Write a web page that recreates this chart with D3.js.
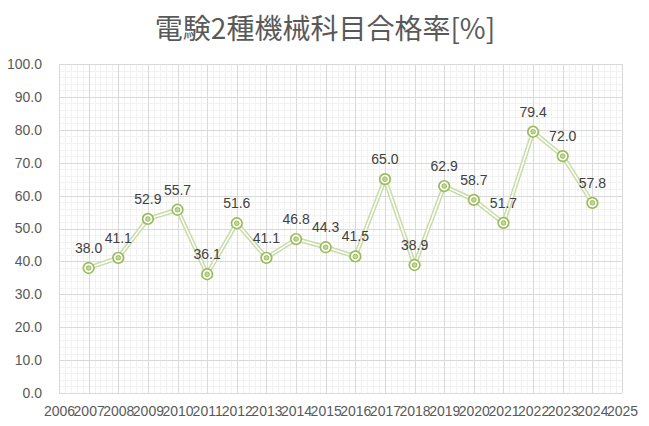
<!DOCTYPE html>
<html><head><meta charset="utf-8">
<script src="https://cdn.jsdelivr.net/npm/d3@7"></script>
<style>body{margin:0;background:#fff}svg{display:block}</style>
</head><body>
<svg id="c" width="649" height="426"></svg>
<script>
const years = [2007,2008,2009,2010,2011,2012,2013,2014,2015,2016,2017,2018,2019,2020,2021,2022,2023,2024];
const rates = [38.0,41.1,52.9,55.7,36.1,51.6,41.1,46.8,44.3,41.5,65.0,38.9,62.9,58.7,51.7,79.4,72.0,57.8];
const xTicks = d3.range(2006,2026);
const yTicks = d3.range(0,101,10);
const title = "電験2種機械科目合格率[%]";

const svg = d3.select("#c");
const L=59, R=622, T=64, B=393;
const x = d3.scaleLinear().domain([2006,2025]).range([L,R]);
const y = d3.scaleLinear().domain([0,100]).range([B,T]);

// minor grid
const g = svg.append("g");
const minorX = d3.range(2006,2025.001,0.2).filter(v=>Math.abs(v-Math.round(v))>0.01);
const minorY = d3.range(0,100.001,2).filter(v=>v%10!==0);
g.selectAll(".mx").data(minorX).join("line").attr("x1",d=>Math.round(x(d))+0.5).attr("x2",d=>Math.round(x(d))+0.5).attr("y1",T).attr("y2",B).attr("stroke","#f2f2f2");
g.selectAll(".my").data(minorY).join("line").attr("y1",d=>Math.round(y(d))+0.5).attr("y2",d=>Math.round(y(d))+0.5).attr("x1",L).attr("x2",R).attr("stroke","#f2f2f2");
g.selectAll(".Mx").data(xTicks).join("line").attr("x1",d=>Math.round(x(d))+0.5).attr("x2",d=>Math.round(x(d))+0.5).attr("y1",T).attr("y2",B).attr("stroke","#d9d9d9");
g.selectAll(".My").data(yTicks).join("line").attr("y1",d=>Math.round(y(d))+0.5).attr("y2",d=>Math.round(y(d))+0.5).attr("x1",L).attr("x2",R).attr("stroke","#d9d9d9");

// axes labels
const font = "'Liberation Sans', Arial, sans-serif";
const yAxis = d3.axisLeft(y).tickValues(yTicks).tickFormat(d3.format(".1f")).tickSize(0).tickPadding(17);
const ya = svg.append("g").attr("transform",`translate(${L},0)`).call(yAxis);
ya.select(".domain").remove();
ya.selectAll("text").attr("font-family",font).attr("font-size",14).attr("fill","#595959");
const xAxis = d3.axisBottom(x).tickValues(xTicks).tickFormat(d3.format("d")).tickSize(0).tickPadding(13);
const xa = svg.append("g").attr("transform",`translate(0,${B})`).call(xAxis);
xa.select(".domain").remove();
xa.selectAll("text").attr("font-family",font).attr("font-size",14).attr("fill","#595959");

// line
const data = years.map((yr,i)=>({yr,v:rates[i]}));
const line = d3.line().x(d=>x(d.yr)).y(d=>y(d.v));
svg.append("path").datum(data).attr("d",line).attr("fill","none").attr("stroke","#c9dba9").attr("stroke-width",4.5).attr("stroke-linejoin","round");
svg.append("path").datum(data).attr("d",line).attr("fill","none").attr("stroke","#ffffff").attr("stroke-width",1.5).attr("stroke-linejoin","round");

// markers
const m = svg.append("g");
m.selectAll(".o").data(data).join("circle").attr("cx",d=>x(d.yr)).attr("cy",d=>y(d.v)).attr("r",5.3).attr("fill","#fff").attr("stroke","#9bbb59").attr("stroke-width",1.7);
m.selectAll(".i").data(data).join("circle").attr("cx",d=>x(d.yr)).attr("cy",d=>y(d.v)).attr("r",2.3).attr("fill","#c3d69b").attr("stroke","#9bbb59").attr("stroke-width",1);

// labels
svg.selectAll(".lb").data(data).join("text").attr("x",d=>x(d.yr)).attr("y",d=>y(d.v)-15).attr("text-anchor","middle")
  .attr("font-family",font).attr("font-size",14).attr("fill","#404040").text(d=>d.v.toFixed(1));

svg.append("text").attr("x",325).attr("y",39).attr("text-anchor","middle").attr("font-family","'Noto Sans CJK JP', sans-serif").attr("font-size",28).attr("fill","#595959").text(title);
</script>
</body></html>
